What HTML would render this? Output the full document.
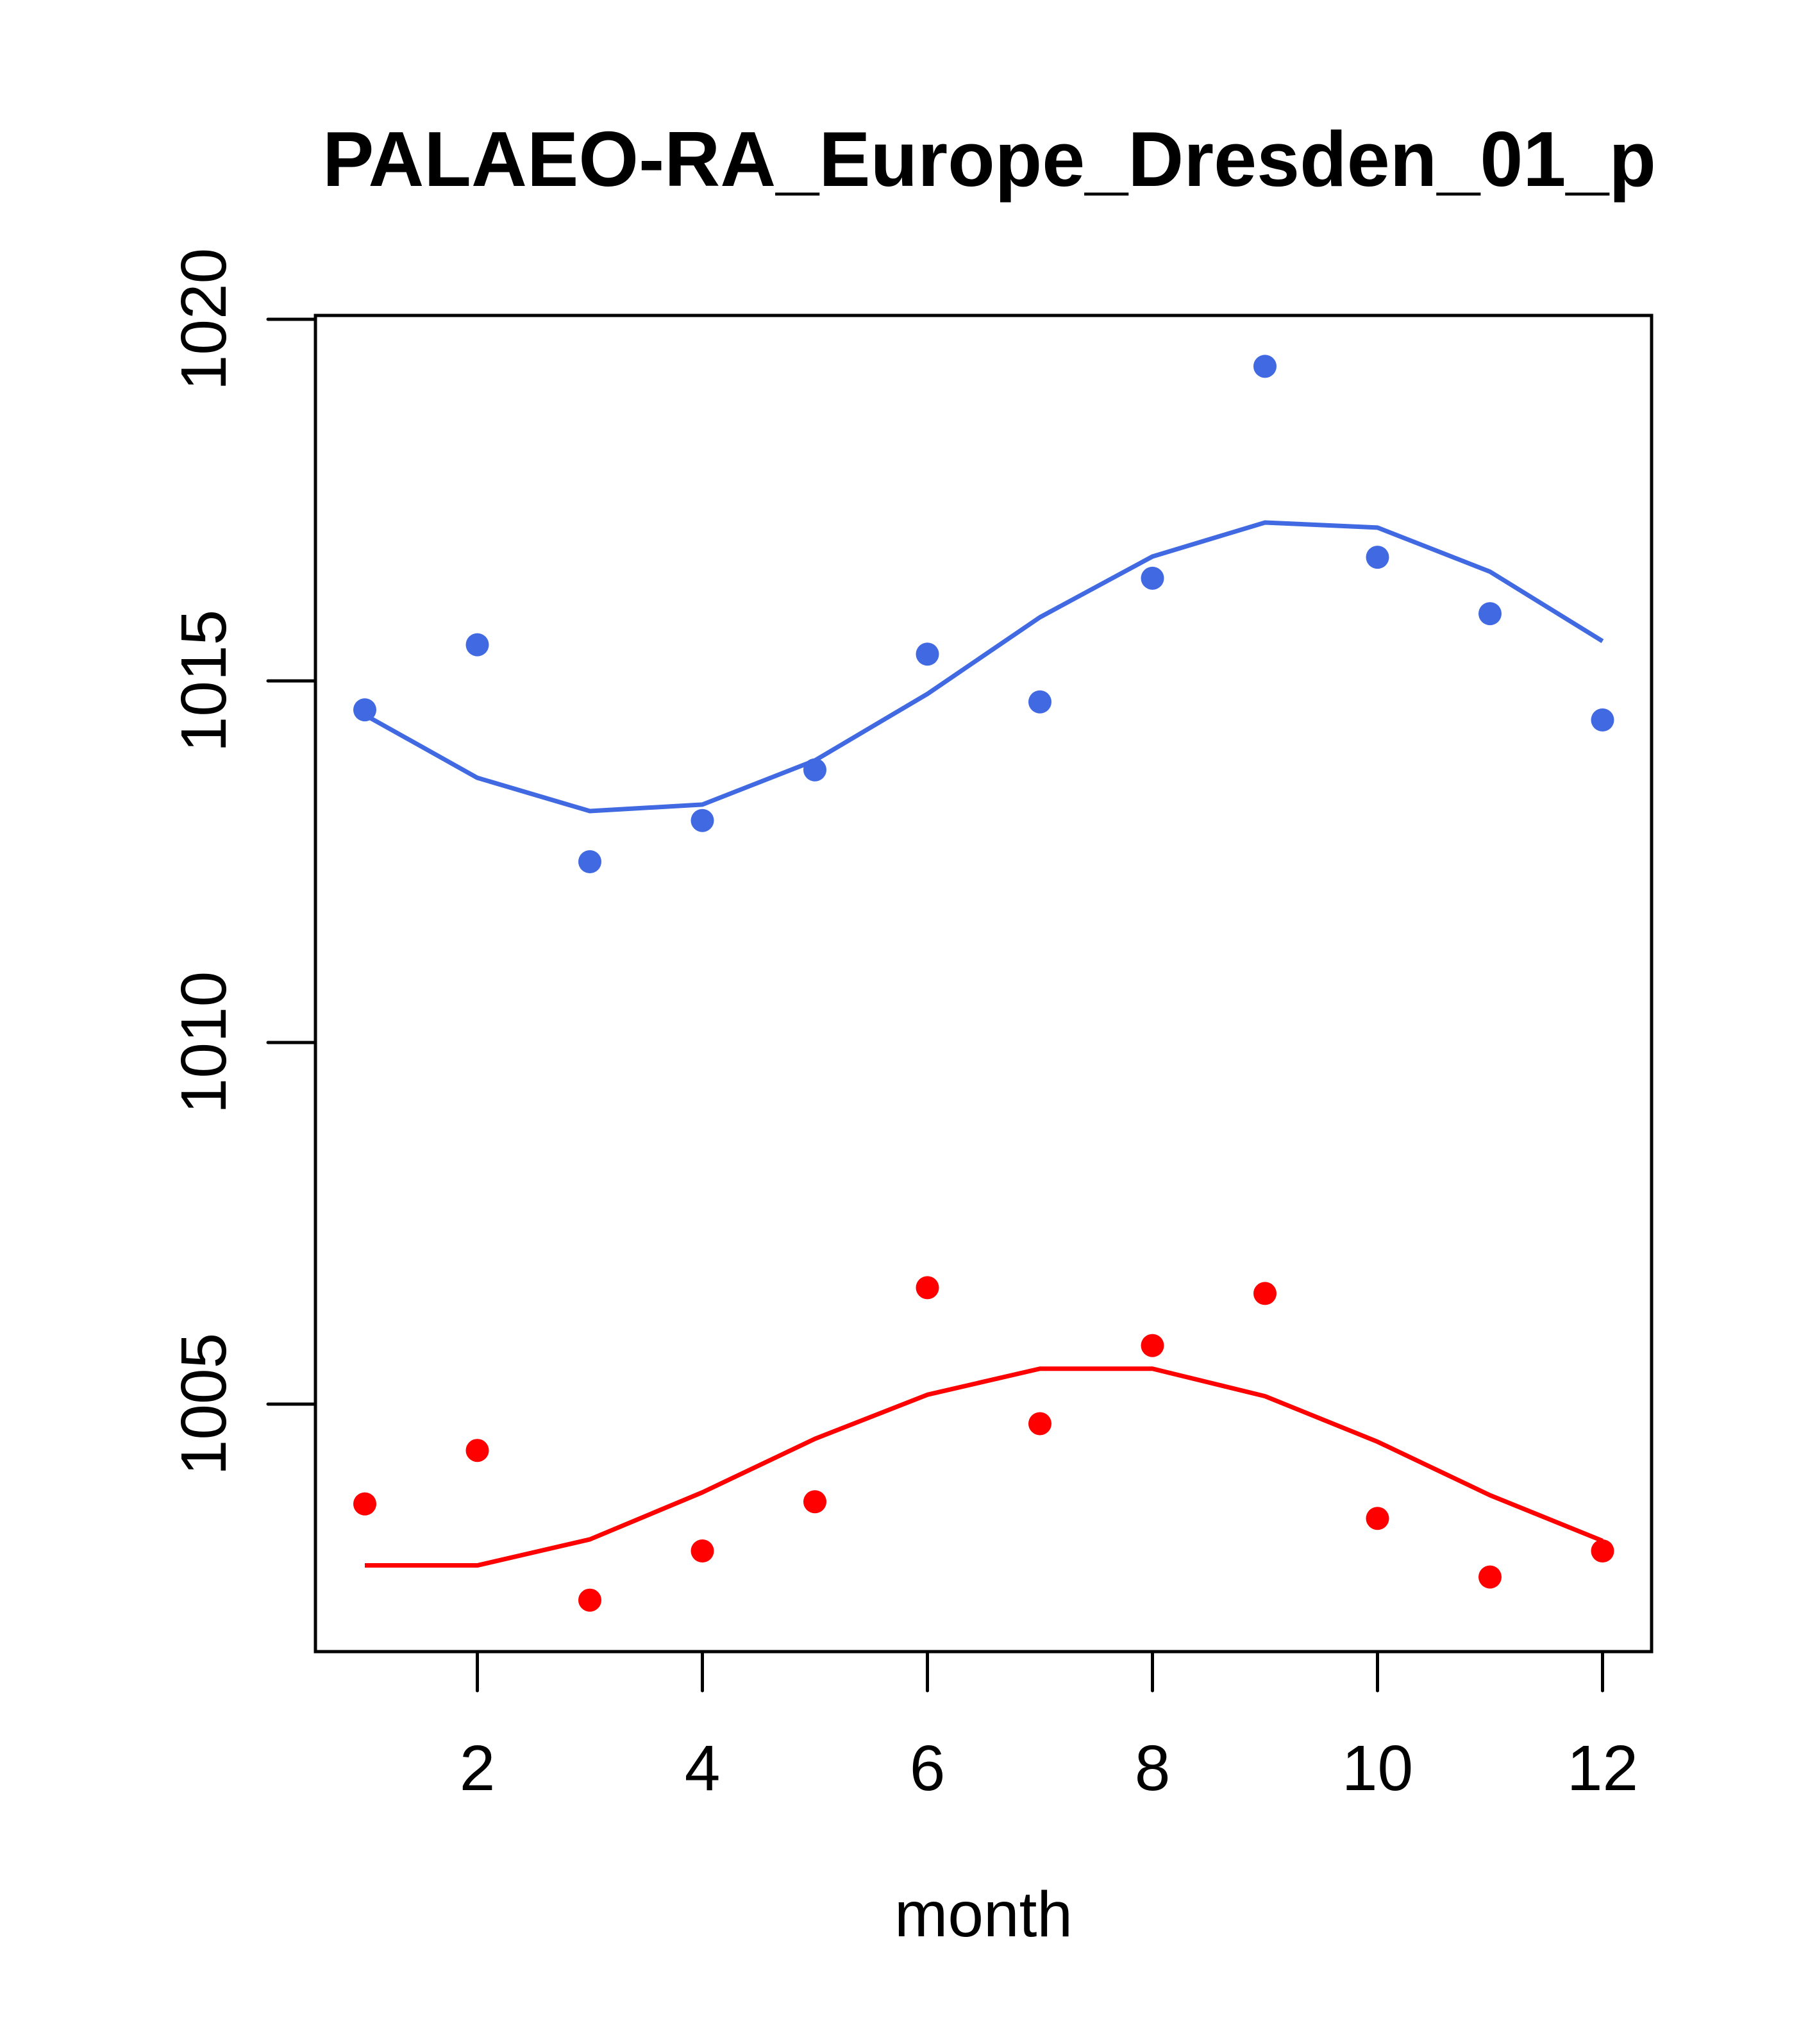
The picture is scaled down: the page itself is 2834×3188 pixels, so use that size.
<!DOCTYPE html>
<html><head><meta charset="utf-8"><style>body{margin:0;background:#fff}svg{display:block}text{font-family:"Liberation Sans",sans-serif}</style></head>
<body>
<svg id="chart" width="2834" height="3188" xmlns="http://www.w3.org/2000/svg">
<text x="1543" y="290" font-size="122" font-weight="bold" text-anchor="middle" textLength="2080" lengthAdjust="spacingAndGlyphs">PALAEO-RA_Europe_Dresden_01_p</text>
<text x="1534" y="3020" font-size="100" text-anchor="middle">month</text>
<rect x="492" y="492" width="2084" height="2084" fill="none" stroke="#000" stroke-width="5"/>
<g id="axes"></g><g id="series"></g>
</svg>
<script>
const months=[1,2,3,4,5,6,7,8,9,10,11,12];
const blueObs=[1014.6,1015.5,1012.5,1013.07,1013.77,1015.37,1014.71,1016.42,1019.35,1016.71,1015.93,1014.46];
const blueFit=[1014.53,1013.66,1013.2,1013.29,1013.9,1014.82,1015.88,1016.72,1017.19,1017.12,1016.51,1015.55];
const redObs=[1003.62,1004.36,1002.29,1002.97,1003.65,1006.61,1004.73,1005.81,1006.53,1003.42,1002.61,1002.97];
const redFit=[1002.77,1002.77,1003.13,1003.78,1004.52,1005.13,1005.49,1005.49,1005.11,1004.48,1003.74,1003.11];
const xTicks=[2,4,6,8,10,12];
const yTicks=[1005,1010,1015,1020];
const NS="http://www.w3.org/2000/svg";
const X=m=>569+(m-1)*175.5;
const Y=v=>498+(1020-v)*112.8;
function mk(t,a,p){const e=document.createElementNS(NS,t);for(const k in a)e.setAttribute(k,a[k]);p.appendChild(e);return e;}
const axes=document.getElementById('axes'),ser=document.getElementById('series');
xTicks.forEach(t=>{
 const l=mk('line',{x1:X(t),x2:X(t),y1:2576,y2:2637,stroke:'#000','stroke-width':5,'stroke-linecap':'round'},axes);
 
 
 const tx=mk('text',{x:X(t),y:2792,'font-size':100,'text-anchor':'middle'},axes);tx.textContent=t;
 
 
});
yTicks.forEach(t=>{
 const l=mk('line',{x1:418,x2:492,y1:Y(t),y2:Y(t),stroke:'#000','stroke-width':5,'stroke-linecap':'round'},axes);
 
 
 const tx=mk('text',{x:0,y:0,'font-size':100,'text-anchor':'middle',transform:`translate(352,${Y(t)}) rotate(-90)`},axes);tx.textContent=t;
 
 
});
function line(vals,col,name){
 const p=mk('polyline',{points:vals.map((v,i)=>X(months[i])+','+Y(v)).join(' '),fill:'none',stroke:col,'stroke-width':7,'stroke-linejoin':'round'},ser);
 
 
}
function pts(vals,col,name){
 vals.forEach((v,i)=>{const c=mk('circle',{cx:X(months[i]),cy:Y(v),r:18,fill:col},ser);
 
 });
}
line(blueFit,'#4169E1','blue-fit-line');pts(blueObs,'#4169E1','blue-point');
line(redFit,'#FF0000','red-fit-line');pts(redObs,'#FF0000','red-point');
</script>
</body></html>
